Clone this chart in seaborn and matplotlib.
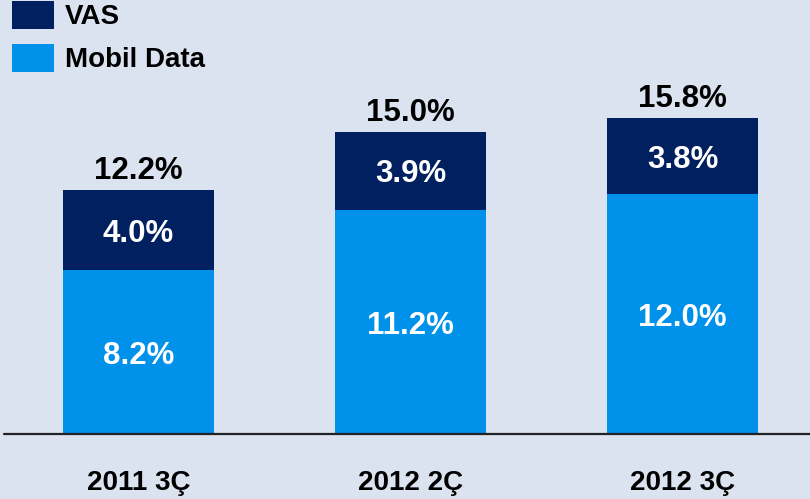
import matplotlib
matplotlib.use("Agg")
import pandas as pd
import matplotlib.pyplot as plt
import seaborn as sns

# data
periods = ["2011 3Ç", "2012 2Ç", "2012 3Ç"]
mobil_data = [8.2, 11.2, 12.0]
vas = [4.0, 3.9, 3.8]
totals = [12.2, 15.0, 15.8]

bg = "#DBE3F0"
navy = "#002060"
light = "#0091EA"

sns.set_theme(style="white")
plt.rcParams["font.family"] = ["Liberation Sans", "DejaVu Sans"]

df = pd.DataFrame({"period": periods, "Mobil Data": mobil_data, "VAS": vas})
df["top"] = df["Mobil Data"] + df["VAS"]

fig = plt.figure(figsize=(8.1, 4.99), dpi=100, facecolor=bg)
ax = fig.add_axes([0, 65 / 499, 1, 434 / 499])
ax.set_facecolor(bg)

w = 151 / 272
sns.barplot(data=df, x="period", y="top", color=navy, width=w, saturation=1,
            ax=ax, label="VAS", linewidth=0, legend=False)
sns.barplot(data=df, x="period", y="Mobil Data", color=light, width=w, saturation=1,
            ax=ax, label="Mobil Data", linewidth=0, legend=False)

ax.set_xlim(-138.5 / 272, 2 + (810 - 682.5) / 272)
ax.set_ylim(0, 434 / 20)

for s in ax.spines.values():
    s.set_visible(False)
ax.axhline(0, xmin=4 / 810, xmax=1, color="#222222", lw=1.6, clip_on=False)
ax.set_yticks([])
ax.set_xlabel("")
ax.set_ylabel("")
ax.tick_params(axis="x", length=0, pad=26)
ax.set_xticks(range(len(periods)))
ax.set_xticklabels(periods, fontsize=20, fontweight="bold", color="black")

fs = 22.5
for i in range(len(periods)):
    md = mobil_data[i]
    v = vas[i]
    ax.text(i, md / 2, f"{md:.1f}%", ha="center", va="center_baseline", color="white",
            fontsize=fs, fontweight="bold")
    ax.text(i, md + v / 2, f"{v:.1f}%", ha="center", va="center_baseline", color="white",
            fontsize=fs, fontweight="bold")
    ax.annotate(f"{totals[i]:.1f}%", (i, md + v), xytext=(0, 8), textcoords="offset points",
                ha="center", va="baseline", color="black", fontsize=fs, fontweight="bold")

if ax.get_legend() is not None:
    ax.get_legend().remove()

h, l = ax.get_legend_handles_labels()
leg = fig.legend(h, l, loc="upper left", bbox_to_anchor=(12 / 810, 1 - 1 / 499),
                 frameon=False, prop={"weight": "bold", "size": 20},
                 handlelength=1.51, handleheight=1.15, labelspacing=0.5,
                 handletextpad=0.4, borderpad=0, borderaxespad=0)
for t in leg.get_texts():
    t.set_color("black")

fig.savefig("out.png", dpi=100, facecolor=bg)
